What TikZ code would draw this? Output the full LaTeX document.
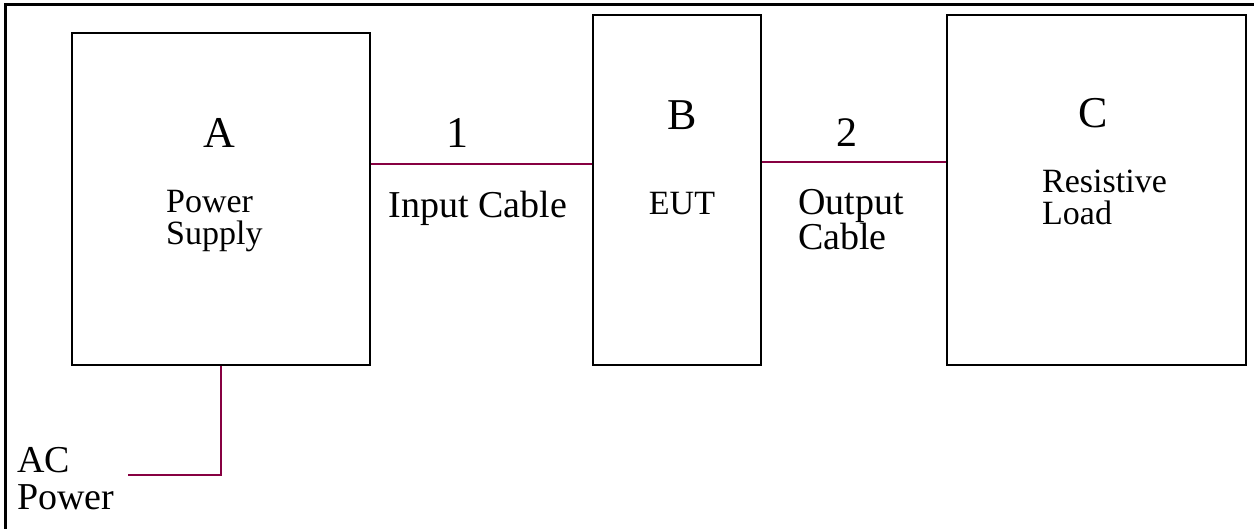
\documentclass[tikz,border=0pt]{standalone}
\usepackage{fontspec}
\setmainfont{Liberation Serif}
\usetikzlibrary{positioning}
\definecolor{cablecol}{RGB}{135,0,65}

\begin{document}
\begin{tikzpicture}
	[x=1pt,y=-1pt,
	box/.style={draw,line width=1.6pt,inner sep=0pt},
	cable/.style={draw=cablecol,line width=1.6pt},
	letter/.style={anchor=base,inner sep=0pt,font=\fontsize{44}{44}\selectfont},
	lbl/.style={anchor=base west,inner sep=0pt,align=left}]
	\useasboundingbox (0,0) rectangle (1254,529);
	% outer frame, top and left only
	\draw[line width=3pt] (1254,5) -- (5,5) -- (5,529);
	
	\node[box,minimum width=298pt,minimum height=332pt] (A) at (221,199) {};
	\node[box,minimum width=168pt,minimum height=350pt] (B) at (677,190) {};
	\node[box,minimum width=299pt,minimum height=350pt] (C) at (1096.5,190) {};
	
	\node[letter] (lA) at (219,148) {A};
	\node[letter] (lB) at (682,130) {B};
	\node[letter] (lC) at (1093,128) {C};
	\node[letter] (n1) at (457,148) {1};
	\node[letter,font=\fontsize{42}{42}\selectfont] (n2) at (847,147) {2};
	
	% base of a two-line label sits on its last line
	\node[lbl,font=\fontsize{34}{32}\selectfont] (psu) at (166,245) {Power\\Supply};
	\node[anchor=base,inner sep=0pt,font=\fontsize{38}{38}\selectfont] (inc) at (478,218) {Input Cable};
	\node[anchor=base,inner sep=0pt,font=\fontsize{34}{34}\selectfont] (eut) at (682,215) {EUT};
	\node[lbl,font=\fontsize{38}{35}\selectfont] (outc) at (798,250) {Output\\Cable};
	\node[lbl,font=\fontsize{34}{32}\selectfont] (load) at (1042,225) {Resistive\\Load};
	\node[lbl,font=\fontsize{38}{37}\selectfont] (ac) at (17,509) {AC\\Power};
	
	\coordinate (acend) at (128,475);
	\draw[cable] ([yshift=35pt]A.east) -- ([yshift=35pt]A.east -| B.west);
	\draw[cable] ([yshift=28pt]B.east) -- ([yshift=28pt]B.east -| C.west);
	\draw[cable] (A.south) |- (acend);
\end{tikzpicture}
\end{document}
